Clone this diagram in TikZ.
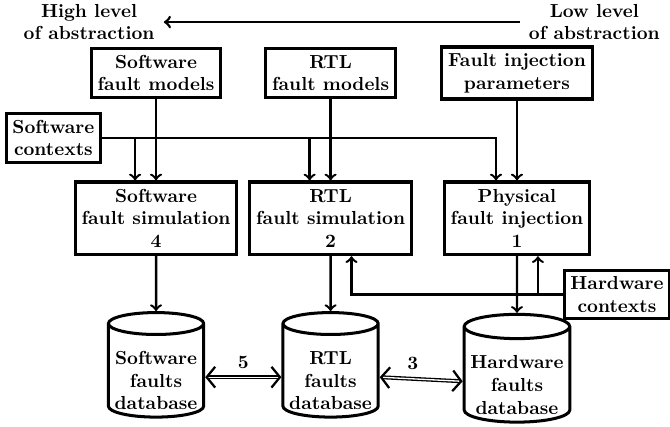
\documentclass[tikz,border=0pt]{standalone}
\usetikzlibrary{shapes.geometric,positioning,arrows.meta}

\newcommand{\dbstrut}{\rule{0pt}{14.4pt}}

\begin{document}
\begin{tikzpicture}[->,>=to,line width=1.3pt,on grid,font=\bfseries,
		block/.style={draw,line width=1.7pt,align=center},
		simblock/.style={block,minimum height=38.5pt},
		db/.style={draw,cylinder,shape border rotate=90,aspect=0.23,line width=1.6pt,align=center,inner ysep=0.8pt},
		dbarrow/.style={{Straight Barb[length=4.5pt,width=11pt,line width=1.2pt]}-{Straight Barb[length=4.5pt,width=11pt,line width=1.2pt]},double,line width=0.7pt,double distance=0.7pt}]
		
		\useasboundingbox (-82.7pt,-110.1pt) rectangle (272.4pt,115.7pt);
		
		\node[simblock] (swsim)                           {Software\\fault simulation\\4};
		\node[simblock] (rtlsim) [right=92.5pt of swsim]  {RTL\\fault simulation\\2};
		\node[simblock] (physim) [right=98.8pt of rtlsim] {Physical\\fault injection\\1};
		
		\node[block] (swmod)  [above=77pt of swsim]  {Software\\fault models};
		\node[block] (rtlmod) [above=77pt of rtlsim] {RTL\\fault models};
		\node[block] (params) [above=77pt of physim] {Fault injection\\parameters};
		
		\node[block] (swctx) [above left=42.5pt and 54.4pt of swsim] {Software\\contexts};
		\node[block] (hwctx) [below right=40.3pt and 53pt of physim] {Hardware\\contexts};
		
		\node[db] (swdb)  [below=82.4pt of swsim]  {\dbstrut Software\\faults\\database};
		\node[db] (rtldb) [below=82.4pt of rtlsim] {\dbstrut RTL\\faults\\database};
		\node[db] (hwdb)  [below=84.6pt of physim] {\dbstrut Hardware\\faults\\database};
		
		\node[align=center] (high) [above left=27pt and 35.5pt of swmod] {High level\\of abstraction};
		\node[align=center] (low)  [above right=27pt and 41pt of params] {Low level\\of abstraction};
		
		\draw[line width=1.4pt,shorten >=1pt,shorten <=1pt] (low) -- (high);
		
		\draw (swmod) -- (swsim);
		\draw (rtlmod) -- (rtlsim);
		\draw (params) -- (physim);
		
		\draw (swctx) -| ([xshift=-11.1pt]physim.north);
		\draw ([xshift=-11.1pt]swsim.north |- swctx) -- ([xshift=-11.1pt]swsim.north);
		\draw ([xshift=-11.1pt]rtlsim.north |- swctx) -- ([xshift=-11.1pt]rtlsim.north);
		
		\draw (hwctx) -| ([xshift=11.1pt]rtlsim.south);
		\draw ([xshift=11.1pt]physim.south |- hwctx) -- ([xshift=11.1pt]physim.south);
		
		\draw (swsim) -- (swdb);
		\draw (rtlsim) -- (rtldb);
		\draw (physim) -- (hwdb);
		
		\draw[dbarrow] ([yshift=-1.8pt]swdb.east) -- ([yshift=-1.8pt]rtldb.west) node[midway,above=1pt] {5};
		\draw[dbarrow] ([yshift=-1.8pt]rtldb.east) -- ([yshift=-1.8pt]hwdb.west) node[pos=0.4,above=1pt] {3};
\end{tikzpicture}
\end{document}
